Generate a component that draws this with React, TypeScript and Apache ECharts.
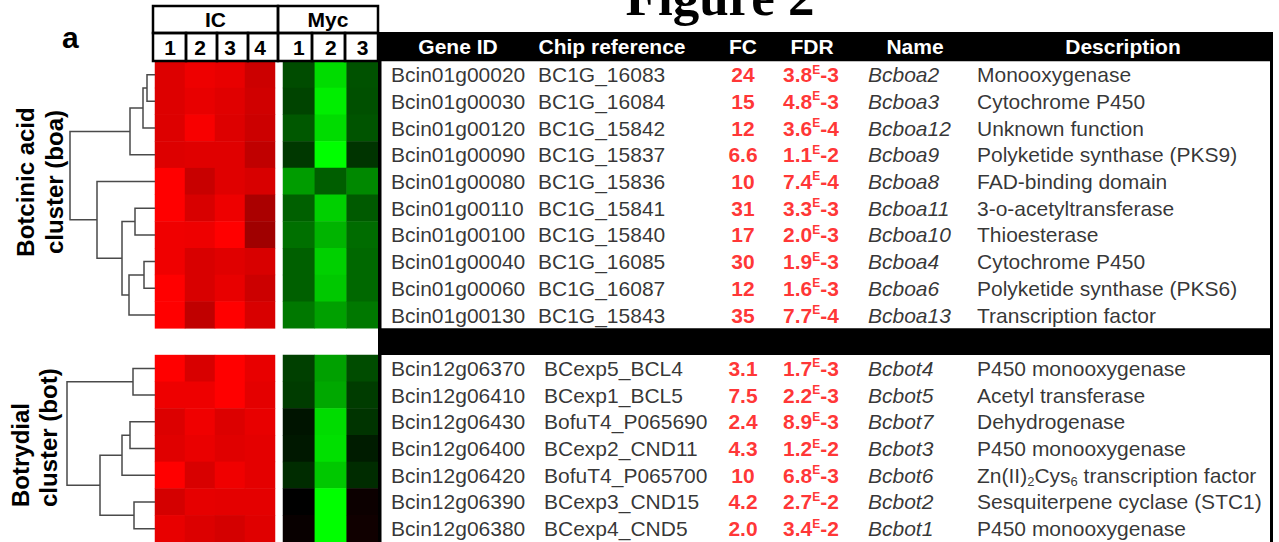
import React, { useEffect, useRef } from "react";
import * as echarts from "echarts";

// ---------- data ----------
const icColumns = ["1", "2", "3", "4"];
const mycColumns = ["1", "2", "3"];

const boaGeneIds = ["Bcin01g00020", "Bcin01g00030", "Bcin01g00120", "Bcin01g00090", "Bcin01g00080", "Bcin01g00110", "Bcin01g00100", "Bcin01g00040", "Bcin01g00060", "Bcin01g00130"];
const boaChipRefs = ["BC1G_16083", "BC1G_16084", "BC1G_15842", "BC1G_15837", "BC1G_15836", "BC1G_15841", "BC1G_15840", "BC1G_16085", "BC1G_16087", "BC1G_15843"];
const boaFC = ["24", "15", "12", "6.6", "10", "31", "17", "30", "12", "35"];
const boaFDR = ["3.8E-3", "4.8E-3", "3.6E-4", "1.1E-2", "7.4E-4", "3.3E-3", "2.0E-3", "1.9E-3", "1.6E-3", "7.7E-4"];
const boaNames = ["Bcboa2", "Bcboa3", "Bcboa12", "Bcboa9", "Bcboa8", "Bcboa11", "Bcboa10", "Bcboa4", "Bcboa6", "Bcboa13"];
const boaDescriptions = ["Monooxygenase", "Cytochrome P450", "Unknown function", "Polyketide synthase (PKS9)", "FAD-binding domain", "3-o-acetyltransferase", "Thioesterase", "Cytochrome P450", "Polyketide synthase (PKS6)", "Transcription factor"];

const botGeneIds = ["Bcin12g06370", "Bcin12g06410", "Bcin12g06430", "Bcin12g06400", "Bcin12g06420", "Bcin12g06390", "Bcin12g06380"];
const botChipRefs = ["BCexp5_BCL4", "BCexp1_BCL5", "BofuT4_P065690", "BCexp2_CND11", "BofuT4_P065700", "BCexp3_CND15", "BCexp4_CND5"];
const botFC = ["3.1", "7.5", "2.4", "4.3", "10", "4.2", "2.0"];
const botFDR = ["1.7E-3", "2.2E-3", "8.9E-3", "1.2E-2", "6.8E-3", "2.7E-2", "3.4E-2"];
const botNames = ["Bcbot4", "Bcbot5", "Bcbot7", "Bcbot3", "Bcbot6", "Bcbot2", "Bcbot1"];
const botDescriptions = ["P450 monooxygenase", "Acetyl transferase", "Dehydrogenase", "P450 monooxygenase", "Zn(II)_2Cys_6 transcription factor", "Sesquiterpene cyclase (STC1)", "P450 monooxygenase"];

// expression (log ratio) values: rows x columns
const boaIC = [
  [2.6, 2.8, 2.73, 2.4],
  [2.6, 2.73, 2.64, 2.45],
  [2.6, 2.92, 2.6, 2.4],
  [2.6, 2.64, 2.64, 2.26],
  [3.0, 2.35, 2.64, 2.54],
  [3.0, 2.54, 2.8, 2.0],
  [2.82, 2.8, 3.0, 1.88],
  [2.82, 2.54, 2.64, 2.54],
  [3.0, 2.54, 2.73, 2.4],
  [3.0, 2.26, 3.0, 2.54],
];
const boaMyc = [
  [-0.89, -2.59, -0.96],
  [-0.8, -2.8, -0.94],
  [-1.04, -2.59, -0.99],
  [-0.66, -3.0, -0.61],
  [-1.84, -1.11, -1.6],
  [-1.13, -2.45, -1.06],
  [-1.32, -2.12, -1.27],
  [-1.13, -2.45, -1.22],
  [-1.13, -2.35, -1.22],
  [-1.41, -1.88, -1.41],
];
const botIC = [
  [3.0, 2.54, 3.0, 2.73],
  [2.8, 2.8, 3.0, 2.68],
  [2.59, 2.82, 2.59, 2.73],
  [2.64, 2.75, 2.64, 2.68],
  [3.0, 2.54, 2.82, 2.68],
  [2.49, 2.71, 2.68, 2.68],
  [2.73, 2.59, 2.49, 2.64],
];
const botMyc = [
  [-0.75, -1.88, -0.89],
  [-0.71, -1.98, -0.71],
  [-0.24, -2.59, -0.61],
  [-0.28, -2.64, -0.33],
  [-0.52, -2.35, -0.52],
  [0.0, -3.0, 0.14],
  [0.09, -3.0, 0.19],
];

// dendrogram linkage: [childA, childB, height]; leaves 0..n-1, merged nodes n+k
const boaLinkage = [
  [0, 1, 8],
  [10, 2, 12],
  [11, 3, 25],
  [5, 6, 20],
  [7, 8, 11],
  [14, 9, 26],
  [13, 15, 33],
  [4, 16, 58],
  [12, 17, 85],
];
const botLinkage = [
  [0, 1, 22],
  [2, 3, 25],
  [8, 4, 33],
  [5, 6, 21],
  [9, 10, 55],
  [7, 11, 88],
];

const tableHeaders = ["Gene ID", "Chip reference", "FC", "FDR", "Name", "Description"];

// ---------- layout ----------
const FONT = "'Liberation Sans', Arial, Helvetica, sans-serif";
const GRID_TOP = 61.3;
const GRID_H = 482.4;
const IC_LEFT = 155;
const IC_W = 120;
const MYC_LEFT = 283;
const MYC_W = 95.5;
const TABLE_LEFT = 378;
const TABLE_W = 895;
const headerCenters = [458, 612, 743, 812, 915, 1123];

export default function App() {
  const ref = useRef<HTMLDivElement>(null);

  useEffect(() => {
    const el = ref.current!;
    const chart = echarts.init(el, null, { renderer: "svg" });
    const rowCats = [...boaGeneIds, "separator", ...botGeneIds];
    const botOffset = boaGeneIds.length + 1;

    const heatData = (mat: number[][], offset: number) =>
      mat.flatMap((row, r) => row.map((v, c) => [c, r + offset, v]));

    const items = (boaTexts: string[], botTexts: string[], xBoa: number, xBot: number) => [
      ...boaTexts.map((t, i) => ({ value: [xBoa, i], text: t })),
      ...botTexts.map((t, i) => ({ value: [xBot, i + botOffset], text: t })),
    ];

    const tableSeries = (name: string, data: any[], label: any) => ({
      name,
      type: "scatter",
      xAxisIndex: 2,
      yAxisIndex: 2,
      symbolSize: 0,
      silent: true,
      data,
      label: {
        show: true,
        position: "right",
        distance: 0,
        fontFamily: FONT,
        fontSize: 21,
        color: "#000",
        formatter: (p: any) => p.data.text,
        ...label,
      },
    });

    const axisLabelStyle = {
      fontFamily: FONT,
      fontSize: 21,
      fontWeight: "bold",
      color: "#000",
      margin: 14,
      verticalAlign: "middle",
    };

    const option: any = {
      animation: false,
      backgroundColor: "#fff",
      grid: [
        { left: IC_LEFT, top: GRID_TOP, width: IC_W, height: GRID_H },
        { left: MYC_LEFT, top: GRID_TOP, width: MYC_W, height: GRID_H },
        { left: TABLE_LEFT, top: GRID_TOP, width: TABLE_W, height: GRID_H },
      ],
      xAxis: [
        { type: "category", gridIndex: 0, data: icColumns, position: "top", axisLine: { show: false }, axisTick: { show: false }, axisLabel: axisLabelStyle },
        { type: "category", gridIndex: 1, data: mycColumns, position: "top", axisLine: { show: false }, axisTick: { show: false }, axisLabel: axisLabelStyle },
        { type: "value", gridIndex: 2, min: 0, max: TABLE_W, show: false },
      ],
      yAxis: [0, 1, 2].map((g) => ({
        type: "category",
        gridIndex: g,
        data: rowCats,
        inverse: true,
        show: false,
      })),
      visualMap: {
        show: false,
        type: "continuous",
        min: -3,
        max: 3,
        dimension: 2,
        seriesIndex: [0, 1],
        inRange: { color: ["#00ff00", "#000000", "#ff0000"] },
      },
      series: [
        {
          type: "heatmap",
          xAxisIndex: 0,
          yAxisIndex: 0,
          data: [...heatData(boaIC, 0), ...heatData(botIC, botOffset)],
          silent: true,
        },
        {
          type: "heatmap",
          xAxisIndex: 1,
          yAxisIndex: 1,
          data: [...heatData(boaMyc, 0), ...heatData(botMyc, botOffset)],
          silent: true,
        },
        tableSeries("Gene ID", items(boaGeneIds, botGeneIds, 13, 13), {}),
        tableSeries("Chip reference", items(boaChipRefs, botChipRefs, 160, 166), {}),
        tableSeries("FC", items(boaFC, botFC, 365, 365), {
          position: "inside",
          color: "#ff0000",
          fontWeight: "bold",
        }),
        tableSeries("FDR", items(boaFDR, botFDR, 405, 405), {
          formatter: (p: any) => {
            const [m, e] = String(p.data.text).split("E");
            return `{m|${m}}{e|E}{m|${e}}`;
          },
          rich: {
            m: { fontFamily: FONT, fontSize: 21, fontWeight: "bold", color: "#ff0000", lineHeight: 22 },
            e: { fontFamily: FONT, fontSize: 12, fontWeight: "bold", color: "#ff0000", lineHeight: 12, verticalAlign: "top" },
          },
        }),
        tableSeries("Name", items(boaNames, botNames, 490, 490), { fontStyle: "italic" }),
        tableSeries("Description", items(boaDescriptions, botDescriptions, 599, 599), {
          lineHeight: 26,
          formatter: (p: any) => {
            const t = String(p.data.text);
            if (t.indexOf("_") < 0) return t;
            return t
              .split(/(_\d)/)
              .filter((s) => s.length)
              .map((s) => (s.startsWith("_") ? `{s|${s.slice(1)}}` : `{n|${s}}`))
              .join("");
          },
          rich: {
            n: { fontFamily: FONT, fontSize: 21, color: "#000", lineHeight: 26 },
            s: { fontFamily: FONT, fontSize: 13, color: "#000", lineHeight: 13, verticalAlign: "bottom" },
          },
        }),
      ],
    };

    chart.setOption(option);

    // --- second pass: graphics positioned via the axes ---
    const rowY = (i: number) => (chart.convertToPixel({ gridIndex: 2 } as any, [0, i]) as number[])[1];
    const rowH = rowY(1) - rowY(0);

    const dendro = (linkage: number[][], n: number, offset: number) => {
      const pos: { x: number; y: number }[] = [];
      for (let i = 0; i < n; i++) pos.push({ x: IC_LEFT, y: rowY(i + offset) });
      const out: any[] = [];
      linkage.forEach(([a, b, h]) => {
        const pa = pos[a];
        const pb = pos[b];
        const xm = IC_LEFT - h;
        out.push({
          type: "polyline",
          z: 5,
          shape: { points: [[pa.x, pa.y], [xm, pa.y], [xm, pb.y], [pb.x, pb.y]] },
          style: { stroke: "#4a4a4a", lineWidth: 1.5, fill: "none" },
        });
        pos.push({ x: xm, y: (pa.y + pb.y) / 2 });
      });
      return out;
    };

    const sepTop = rowY(boaGeneIds.length) - rowH / 2;
    const text = (t: string, x: number, y: number, extra: any = {}, el: any = {}) => ({
      type: "text",
      x,
      y,
      z: 10,
      ...el,
      style: {
        text: t,
        fontFamily: FONT,
        fontSize: 21,
        fontWeight: "bold",
        fill: "#000",
        align: "center",
        verticalAlign: "middle",
        ...extra,
      },
    });
    const box = (x: number, y: number, w: number, h: number) => ({
      type: "rect",
      z: 6,
      shape: { x, y, width: w, height: h },
      style: { fill: "none", stroke: "#000", lineWidth: 2.5 },
    });
    const bar = (x: number, y: number, w: number, h: number) => ({
      type: "rect",
      z: 4,
      shape: { x, y, width: w, height: h },
      style: { fill: "#000" },
    });

    const icDiv = [153, 186, 217, 248, 278];
    const mycDiv = [278, 312, 345, 378];
    const numberBoxes: any[] = [];
    for (let i = 0; i < icDiv.length - 1; i++) numberBoxes.push(box(icDiv[i], 33, icDiv[i + 1] - icDiv[i], 28));
    for (let i = 0; i < mycDiv.length - 1; i++) numberBoxes.push(box(mycDiv[i], 33, mycDiv[i + 1] - mycDiv[i], 28));

    const graphics: any[] = [
      text("Figure 2", 720, -3, { fontFamily: "'Liberation Serif', 'Times New Roman', serif", fontSize: 53 }),
      text("a", 62, 37.5, { fontSize: 30, align: "left" }),
      text("Botcinic acid", 25, 182, { fontSize: 24 }, { rotation: Math.PI / 2 }),
      text("cluster (boa)", 54, 182, { fontSize: 24 }, { rotation: Math.PI / 2 }),
      text("Botrydial", 20, 507, { fontSize: 24, align: "left" }, { rotation: Math.PI / 2 }),
      text("cluster (bot)", 48, 507, { fontSize: 24, align: "left" }, { rotation: Math.PI / 2 }),
      box(153, 6, 125, 27),
      box(278, 6, 100, 27),
      ...numberBoxes,
      text("IC", 215.5, 19.5),
      text("Myc", 328, 19.5),
      bar(378, 32, 895, GRID_TOP - 32),
      bar(378, sepTop, 895, rowH),
      bar(378, 32, 3.5, 520),
      bar(1270, 32, 3, 520),
      ...tableHeaders.map((h, i) => text(h, headerCenters[i], 46.5, { fill: "#fff" })),
      ...dendro(boaLinkage, boaGeneIds.length, 0),
      ...dendro(botLinkage, botGeneIds.length, botOffset),
    ];

    chart.setOption({ graphic: { elements: graphics } });

    return () => chart.dispose();
  }, []);

  return (
    <div
      ref={ref}
      style={{ position: "fixed", left: 0, top: 0, width: 1279, height: 542, background: "#fff" }}
    />
  );
}
